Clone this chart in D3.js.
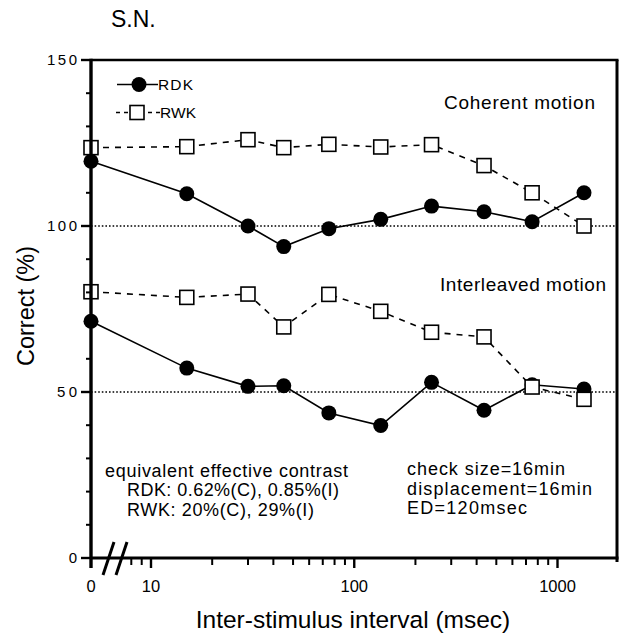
<!DOCTYPE html>
<html><head><meta charset="utf-8">
<script src="https://cdn.jsdelivr.net/npm/d3@7"></script>
<style>
body{margin:0;background:#fff}
svg{display:block}
text{font-family:"Liberation Sans",Arial,Helvetica,sans-serif;fill:#000}
</style>
</head><body>
<svg id="c" width="622" height="642"></svg>
<script>
// ---- data ----
const isi = [0, 15, 30, 45, 75, 135, 240, 435, 750, 1350];
const rdkCoherent    = [119.5, 109.7, 100.0, 93.8, 99.2, 102.0, 106.0, 104.3, 101.3, 110.0];
const rwkCoherent    = [123.6, 123.9, 126.0, 123.6, 124.6, 123.8, 124.5, 118.2, 110.0, 100.0];
const rdkInterleaved = [71.3, 57.2, 51.7, 51.9, 43.7, 39.9, 52.9, 44.5, 52.2, 50.9];
const rwkInterleaved = [80.2, 78.5, 79.5, 69.6, 79.4, 74.3, 68.0, 66.6, 51.5, 47.8];
const yMajorTicks = [0, 50, 100, 150];
const yMinorTicks = [10, 20, 30, 40, 60, 70, 80, 90, 110, 120, 130, 140];
const xMajorTicks = [10, 100, 1000];
const xMinorTicks = [8, 9, 20, 30, 40, 50, 60, 70, 80, 90, 200, 300, 400, 500, 600, 700, 800, 900];
const xZeroLabel = "0";
const referenceLevels = [100, 50];
const seriesNames = ["RDK", "RWK"];
const conditionLabels = ["Coherent motion", "Interleaved motion"];
const noteLeft = ["equivalent effective contrast", "RDK: 0.62%(C), 0.85%(I)", "RWK: 20%(C), 29%(I)"];
const noteRight = ["check size=16min", "displacement=16min", "ED=120msec"];

// ---- layout ----
const L = 91, R = 617, T = 60, B = 558;
const svg = d3.select("#c");

const xLog = d3.scaleLog().domain([10, 1000]).range([151, 557.5]);
const xZero = L; // axis break: ISI 0 sits on the y axis
const x = v => v === 0 ? xZero : xLog(v);
const y = d3.scaleLinear().domain([0, 150]).range([B, T]);

function seg(x1, y1, x2, y2, w) {
  return svg.append("path").attr("d", `M${x1},${y1}L${x2},${y2}`)
    .attr("stroke", "#000").attr("stroke-width", w).attr("fill", "none");
}

// reference dotted lines
referenceLevels.forEach(v => {
  seg(L, y(v), R, y(v), 1.4).attr("stroke-dasharray", "1.6,2");
});

const line = d3.line().x((d, i) => x(isi[i])).y(d => y(d));

function drawRDK(vals) {
  svg.append("path").datum(vals).attr("d", line)
    .attr("fill", "none").attr("stroke", "#000").attr("stroke-width", 1.6);
  svg.append("g").selectAll("circle").data(vals).join("circle")
    .attr("cx", (d, i) => x(isi[i])).attr("cy", d => y(d)).attr("r", 7.5).attr("fill", "#000");
}
function drawRWK(vals) {
  svg.append("path").datum(vals).attr("d", line)
    .attr("fill", "none").attr("stroke", "#000").attr("stroke-width", 1.6)
    .attr("stroke-dasharray", "6,6");
  svg.append("g").selectAll("rect").data(vals).join("rect")
    .attr("x", (d, i) => x(isi[i]) - 7).attr("y", d => y(d) - 7)
    .attr("width", 14).attr("height", 14)
    .attr("fill", "#fff").attr("stroke", "#000").attr("stroke-width", 1.6);
}
drawRDK(rdkCoherent);
drawRDK(rdkInterleaved);
drawRWK(rwkCoherent);
drawRWK(rwkInterleaved);

// frame (top and right)
seg(L, T, R + 1.5, T, 2.6);
seg(R, T, R, B + 4, 3);

// y axis
yMinorTicks.forEach(v => seg(L - 5, y(v), L, y(v), 2));
yMajorTicks.forEach(v => seg(L - 10, y(v), L, y(v), 2.4));
seg(L, T - 1.3, L, B + 10, 3.4);
svg.append("g").selectAll("text").data(yMajorTicks).join("text")
  .attr("x", 77).attr("y", d => y(d)).attr("dy", "0.36em")
  .attr("text-anchor", "end").attr("font-size", 15)
  .attr("textLength", d => String(d).length * 10)
  .attr("lengthAdjust", "spacing")
  .text(d => d);

// x axis
seg(L, B, R + 1.5, B, 3);
xMinorTicks.forEach(v => seg(xLog(v), B, xLog(v), B + 7, 2));
xMajorTicks.forEach(v => seg(xLog(v), B, xLog(v), B + 10, 2.4));
svg.append("g").selectAll("text").data(xMajorTicks).join("text")
  .attr("x", d => xLog(d)).attr("y", B + 34).attr("text-anchor", "middle")
  .attr("font-size", 16.5).text(d3.format("d"));
svg.append("text").attr("x", xZero).attr("y", B + 34).attr("text-anchor", "middle")
  .attr("font-size", 16.5).text(xZeroLabel);

// axis break slashes
const bx = xZero + 12;
[0, 13].forEach(off => seg(bx + off, B + 17, bx + off + 11, B - 16, 3));

// legend
const ly1 = 84.5, ly2 = 112.5;
seg(117, ly1, 158, ly1, 1.6);
svg.append("circle").attr("cx", 139).attr("cy", ly1).attr("r", 7.5).attr("fill", "#000");
svg.append("text").attr("x", 158).attr("y", ly1 + 5.5).attr("font-size", 15.5)
  .attr("textLength", 35).attr("lengthAdjust", "spacing").text(seriesNames[0]);
seg(116, ly2, 160, ly2, 1.6).attr("stroke-dasharray", "4,4");
svg.append("rect").attr("x", 130).attr("y", ly2 - 7).attr("width", 14).attr("height", 14)
  .attr("fill", "#fff").attr("stroke", "#000").attr("stroke-width", 1.6);
svg.append("text").attr("x", 160).attr("y", ly2 + 5.5).attr("font-size", 15.5)
  .attr("textLength", 36).attr("lengthAdjust", "spacing").text(seriesNames[1]);

// subject label
svg.append("text").attr("x", 111).attr("y", 27).attr("font-size", 23).text("S.N.");

// condition labels
svg.append("text").attr("x", 444).attr("y", 109).attr("font-size", 19)
  .attr("textLength", 151).attr("lengthAdjust", "spacing").text(conditionLabels[0]);
svg.append("text").attr("x", 440).attr("y", 291).attr("font-size", 19)
  .attr("textLength", 166).attr("lengthAdjust", "spacing").text(conditionLabels[1]);

// notes
const leftX = [105, 127, 127], leftW = [243, 212, 187];
noteLeft.forEach((t, i) => {
  svg.append("text").attr("x", leftX[i]).attr("y", 476.5 + i * 19.5).attr("font-size", 18)
    .attr("textLength", leftW[i]).attr("lengthAdjust", "spacing").text(t);
});
const rightW = [158, 185, 120];
noteRight.forEach((t, i) => {
  svg.append("text").attr("x", 407).attr("y", 475 + i * 19.5).attr("font-size", 18)
    .attr("textLength", rightW[i]).attr("lengthAdjust", "spacing").text(t);
});

// axis titles
svg.append("text").attr("transform", "translate(34,306) rotate(-90)")
  .attr("text-anchor", "middle").attr("font-size", 23.5).text("Correct (%)");
svg.append("text").attr("x", 353).attr("y", 628).attr("text-anchor", "middle")
  .attr("font-size", 24.5).text("Inter-stimulus interval (msec)");
</script>
</body></html>
